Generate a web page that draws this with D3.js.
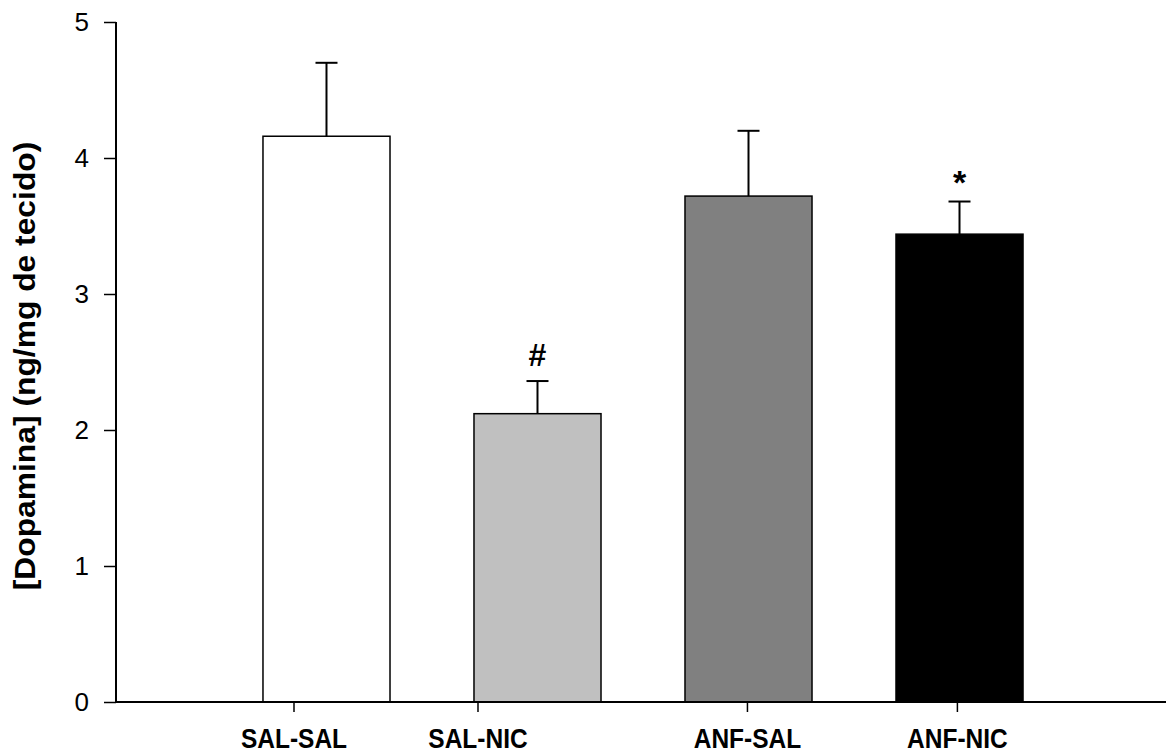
<!DOCTYPE html>
<html><head><meta charset="utf-8">
<script src="https://cdn.jsdelivr.net/npm/d3@7/dist/d3.min.js"></script>
<style>
body{margin:0;background:#fff;}
svg{display:block;font-family:"Liberation Sans",Arial,Helvetica,sans-serif;}
</style></head><body>
<svg id="chart" width="1166" height="753"></svg>
<script>
const categories = ["SAL-SAL","SAL-NIC","ANF-SAL","ANF-NIC"];
const means = [4.16, 2.12, 3.72, 3.44];
const errors = [0.54, 0.24, 0.48, 0.24];
const fills = ["#ffffff","#c0c0c0","#808080","#000000"];
const marks = ["", "#", "", "*"];
const yTicks = [0,1,2,3,4,5];
// label/tick offsets relative to bar centre (in band steps), as drawn in the original
const labelShift = [-0.154, -0.282, -0.005, -0.01];

const svg = d3.select("#chart");
const y = d3.scaleLinear().domain([0,5]).range([702,22]);
const x = d3.scaleBand().domain(categories).range([179,1107]).padding(0.398);
const step = x.step();

// bars
svg.selectAll("rect.bar").data(categories).join("rect")
  .attr("x", d=>x(d)).attr("width", x.bandwidth())
  .attr("y", (d,i)=>y(means[i])).attr("height",(d,i)=>y(0)-y(means[i]))
  .attr("fill",(d,i)=>fills[i]).attr("stroke","#000").attr("stroke-width",1.5);

// error bars
const eg = svg.selectAll("g.err").data(categories).join("g");
eg.append("line")
  .attr("x1",d=>x(d)+x.bandwidth()/2).attr("x2",d=>x(d)+x.bandwidth()/2)
  .attr("y1",(d,i)=>y(means[i])).attr("y2",(d,i)=>y(means[i]+errors[i]))
  .attr("stroke","#000").attr("stroke-width",2);
eg.append("line")
  .attr("x1",d=>x(d)+x.bandwidth()/2-11).attr("x2",d=>x(d)+x.bandwidth()/2+11)
  .attr("y1",(d,i)=>y(means[i]+errors[i])).attr("y2",(d,i)=>y(means[i]+errors[i]))
  .attr("stroke","#000").attr("stroke-width",2);

// significance marks
svg.selectAll("text.mark").data(categories).join("text")
  .attr("x",d=>x(d)+x.bandwidth()/2)
  .attr("y",(d,i)=>y(means[i]+errors[i]) - (marks[i]==="*"?8:15))
  .attr("text-anchor","middle").attr("font-weight","bold")
  .attr("font-size",(d,i)=>marks[i]==="*"?34:32)
  .text((d,i)=>marks[i]);

// y axis
const yAxis = d3.axisLeft(y).tickValues(yTicks).tickFormat(d3.format("d")).tickSize(12).tickPadding(15);
const yg = svg.append("g").attr("transform","translate(116,0)").call(yAxis);
yg.attr("font-size",26).attr("font-family","Liberation Sans, Arial, sans-serif");
yg.select(".domain").attr("stroke-width",2).attr("d","M0,"+y(5)+"V"+y(0));
yg.selectAll(".tick line").attr("stroke-width",1.5);
yg.selectAll(".tick text").attr("fill","#000");

// x axis
const xg = svg.append("g");
xg.append("line").attr("x1",116).attr("x2",1166).attr("y1",y(0)).attr("y2",y(0)).attr("stroke","#000").attr("stroke-width",2);
const lx = (d,i)=>x(d)+x.bandwidth()/2 + labelShift[i]*step;
xg.selectAll("line.t").data(categories).join("line").attr("class","t")
  .attr("x1",lx).attr("x2",lx).attr("y1",y(0)).attr("y2",y(0)+10)
  .attr("stroke","#000").attr("stroke-width",1.5);
xg.selectAll("text.xl").data(categories).join("text").attr("class","xl")
  .attr("transform",(d,i)=>"translate("+lx(d,i)+",748) scale(1,1.1)")
  .attr("text-anchor","middle").attr("font-weight","bold").attr("font-size",24.5)
  .text(d=>d);

// y label
svg.append("text")
  .attr("transform","translate(35,366) rotate(-90) scale(1.06,1)")
  .attr("text-anchor","middle").attr("font-weight","bold").attr("font-size",30)
  .text("[Dopamina] (ng/mg de tecido)");
</script>
</body></html>
